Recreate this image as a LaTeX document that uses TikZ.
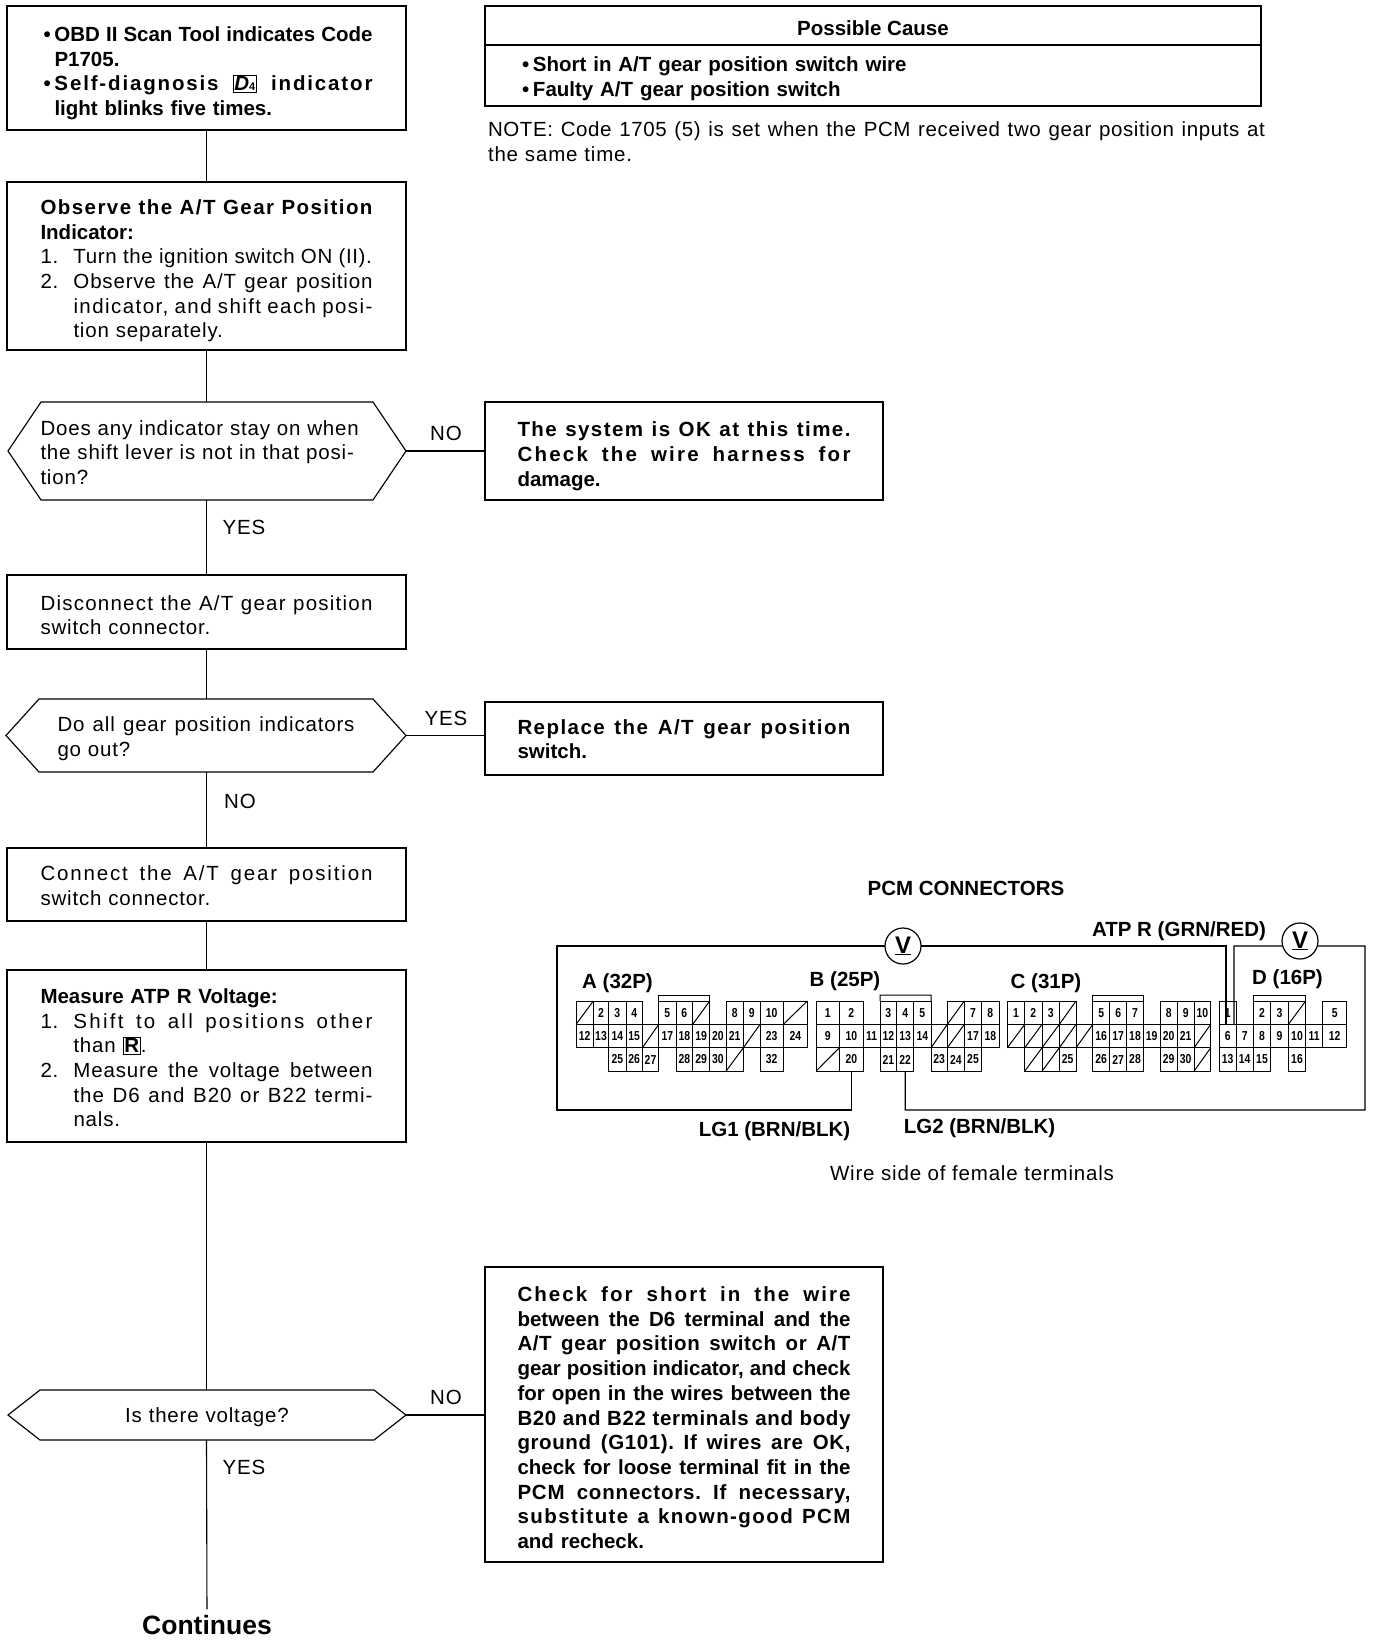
\documentclass[tikz,border=0pt]{standalone}
\usepackage{fontspec}
\setmainfont{Liberation Sans}
\newfontfamily\regls{Liberation Sans}[LetterSpace=4]
\newfontfamily\pinfont{Liberation Sans}[FakeStretch=0.8]
\newcommand{\freespace}{\frenchspacing\spaceskip=0pt\relax\xspaceskip=0pt\relax}
\newcommand{\lsp}[2]{{\addfontfeature{LetterSpace=#1}#2}}
\newcommand{\bld}[1]{{\normalfont\bfseries #1}}
\newcommand{\lnJ}[1]{\makebox[\hsize][s]{\freespace #1}}
\newcommand{\lnN}[2]{\makebox[33pt][l]{#1}\makebox[\dimexpr\hsize-33pt\relax][l]{\freespace #2}}
\newcommand{\lnNJ}[2]{\makebox[33pt][l]{#1}\makebox[\dimexpr\hsize-33pt\relax][s]{\freespace #2}}
\newcommand{\lnI}[1]{\makebox[33pt]{}#1}
\newcommand{\lnIJ}[1]{\makebox[33pt]{}\makebox[\dimexpr\hsize-33pt\relax][s]{\freespace #1}}
\newcommand{\lnB}[1]{\hspace*{3pt}\makebox[11pt][l]{•}#1}
\newcommand{\lnBJ}[1]{\hspace*{3pt}\makebox[11pt][l]{•}\makebox[\dimexpr\hsize-14pt\relax][s]{\freespace #1}}
\newcommand{\lnH}[1]{\makebox[14pt]{}#1}
\newcommand{\keybox}[1]{{\setlength{\fboxsep}{1pt}\setlength{\fboxrule}{0.7pt}\fbox{#1}}}
\newcommand{\dropby}[1]{\rule{0pt}{\dimexpr15pt+#1pt\relax}}
\newcount\slashn
\tikzset{
  wire/.style={line width=1.1pt,black},
  frame/.style={line width=1.15pt,black},
  bodytext/.style={font=\regls\fontsize{20.5}{24.7}\selectfont,inner sep=0pt,outer sep=0pt},
  boldtext/.style={font=\fontsize{20.5}{24.7}\selectfont\bfseries,inner sep=0pt,outer sep=0pt},
  flowbox/.style={draw,line width=1.15pt,inner sep=0pt,outer sep=0pt,align=left,font=\fontsize{20.5}{24.7}\selectfont},
  pincell/.style={draw,line width=1pt,inner sep=0pt,outer sep=0pt,font=\pinfont\fontsize{13}{13}\selectfont\bfseries},
  meter/.style={draw,circle,line width=1.2pt,minimum size=36pt,inner sep=0pt,outer sep=0pt,font=\fontsize{24}{24}\selectfont\bfseries},
}
% name, x0, y0, x1, y1, text width, text
\newcommand{\flow}[7]{%
  \pgfmathsetmacro{\bw}{#4-#2}\pgfmathsetmacro{\bh}{#5-#3}%
  \pgfmathsetmacro{\bx}{(#2+#4)/2}\pgfmathsetmacro{\by}{(#3+#5)/2}%
  \node[flowbox,minimum width=\bw pt,minimum height=\bh pt,text width=#6pt] (#1) at (\bx,\by) {#7};}
% name, x0, y0, x1, y1, inset, text width, text
\newcommand{\decision}[8]{%
  \pgfmathsetmacro{\bw}{#4-#2}\pgfmathsetmacro{\bh}{#5-#3}%
  \pgfmathsetmacro{\bx}{(#2+#4)/2}\pgfmathsetmacro{\by}{(#3+#5)/2}%
  \node[bodytext,minimum width=\bw pt,minimum height=\bh pt,text width=#7pt,align=left] (#1) at (\bx,\by) {#8};
  \draw[frame] (#1.west) -- ([xshift=#6pt]#1.north west) -- ([xshift=-#6pt]#1.north east) -- (#1.east)
    -- ([xshift=-#6pt]#1.south east) -- ([xshift=#6pt]#1.south west) -- cycle;}
% connector prefix, list of x0/x1/row/label
\newcommand{\pins}[2]{%
  \foreach \xa/\xb/\rw/\lbl in {#2}{%
    \pgfmathsetmacro{\cw}{\xb-\xa}\pgfmathsetmacro{\cx}{(\xa+\xb)/2}\pgfmathsetmacro{\cy}{1001+(\rw-0.5)*23.4}%
    \def\slashmark{x}%
    \ifx\lbl\slashmark
      \global\advance\slashn by 1
      \node[pincell,minimum width=\cw pt,minimum height=23.4pt] (s\the\slashn) at (\cx,\cy) {};
      \draw[line width=1pt] (s\the\slashn.south west) -- (s\the\slashn.north east);
    \else
      \node[pincell,minimum width=\cw pt,minimum height=23.4pt] (#1\lbl) at (\cx,\cy) {\lbl};
    \fi}}
\begin{document}
\begin{tikzpicture}[x=1pt,y=-1pt]
\useasboundingbox (0,0) rectangle (1376,1640);

% --- left column
\flow{b1}{7}{6}{406}{130}{332}{\bfseries
  \lnBJ{\dropby{10.5}OBD II Scan Tool indicates Code}\\
  \lnH{P1705.}\\
  \lnBJ{\lsp{9}{Self-diagnosis} \keybox{\textit{D}\fontsize{11}{11}\selectfont 4} \lsp{9}{indicator}}\\
  \lnH{light blinks five times.}}
\flow{b2}{7}{182}{406}{350}{332}{\regls
  \lnJ{\dropby{9.4}\bld{\lsp{7}{Observe the A/T Gear Position}}}\\
  \bld{Indicator:}\\
  \lnN{1.}{\lsp{3}{Turn the ignition switch ON (II).}}\\
  \lnNJ{2.}{\lsp{4}{Observe the A/T gear position}}\\
  \lnIJ{\lsp{7}{indicator, and shift each posi-}}\\
  \lnI{tion separately.}}
\decision{d1}{8}{402}{406}{500}{33}{333}{%
  \dropby{3}Does any indicator stay on when\\
  the shift lever is not in that posi-\\
  tion?}
\flow{b3}{7}{575}{406}{649}{332}{\regls
  \lnJ{\dropby{6.3}\lsp{6}{Disconnect the A/T gear position}}\\
  switch connector.}
\decision{d2}{6}{699}{406}{772}{33}{297}{%
  \lnJ{\dropby{6.3}Do all gear position indicators}\\
  go out?}
\flow{b4}{7}{848}{406}{921}{332}{\regls
  \lnJ{\dropby{2}\lsp{9}{Connect the A/T gear position}}\\
  switch connector.}
\flow{b5}{7}{970}{406}{1142}{332}{\regls
  {\dropby{3.5}\bld{Measure ATP R Voltage:}}\\
  \lnNJ{1.}{\lsp{11}{Shift to all positions other}}\\
  \lnI{than \keybox{\bld{R}}.}\\
  \lnNJ{2.}{Measure the voltage between}\\
  \lnIJ{\lsp{5}{the D6 and B20 or B22 termi-}}\\
  \lnI{nals.}}
\decision{d3}{8}{1390}{406}{1440}{32}{300}{\makebox[\hsize]{\dropby{5.2}Is there voltage?}}
\node[font=\fontsize{26.5}{28}\selectfont\bfseries,inner sep=0pt,outer sep=0pt] (cont) at (207,1625) {Continues};

% --- right column
\node[flowbox,minimum width=776pt,minimum height=39pt,font=\fontsize{20.5}{24.7}\selectfont\bfseries,align=center] (causehead) at (873,25.5) {\raisebox{-10pt}[0pt][0pt]{Possible Cause}};
\node[flowbox,minimum width=776pt,minimum height=61pt,text width=708pt] (causebody) at (873,75.5) {\bfseries
  \lnB{\dropby{6}Short in A/T gear position switch wire}\\
  \lnB{Faulty A/T gear position switch}};
\node[bodytext,anchor=north west,text width=777pt,align=left] (note) at (488,122) {%
  \lnJ{\lsp{3}{NOTE: Code 1705 (5) is set when the PCM received two gear position inputs at}}\\
  the same time.};
\flow{r1}{485}{402}{883}{500}{333}{\bfseries
  \lnJ{\dropby{10.5}\lsp{7}{The system is OK at this time.}}\\
  \lnJ{\lsp{11}{Check the wire harness for}}\\
  damage.}
\flow{r2}{485}{702}{883}{775}{333}{\bfseries
  \lnJ{\dropby{1}\lsp{7}{Replace the A/T gear position}}\\
  switch.}
\flow{r3}{485}{1267}{883}{1562}{333}{\bfseries
  \lnJ{\dropby{6.3}\lsp{10}{Check for short in the wire}}\\
  \lnJ{between the D6 terminal and the}\\
  \lnJ{\lsp{3}{A/T gear position switch or A/T}}\\
  \lnJ{gear position indicator, and check}\\
  \lnJ{for open in the wires between the}\\
  \lnJ{\lsp{3}{B20 and B22 terminals and body}}\\
  \lnJ{\lsp{3}{ground (G101). If wires are OK,}}\\
  \lnJ{check for loose terminal fit in the}\\
  \lnJ{\lsp{4}{PCM connectors. If necessary,}}\\
  \lnJ{\lsp{7}{substitute a known-good PCM}}\\
  and recheck.}

% --- flow connectors
\draw[wire] (b1) -- (b2);
\draw[wire] (b2) -- (b2 |- d1.north);
\draw[wire] (b3 |- d1.south) -- (b3);
\draw[wire] (b3) -- (b3 |- d2.north);
\draw[wire] (b4 |- d2.south) -- (b4);
\draw[wire] (b4) -- (b5);
\draw[wire] (b5) -- (b5 |- d3.north);
\draw[wire,shorten >=6pt] (b5 |- d3.south) -- (cont.north);
\draw[wire] (d1.east) -- (r1.west);
\draw[wire] (d2.east) -- (d2.east -| r2.west);
\draw[wire] (d3.east) -- (d3.east -| r3.west);

% --- flow labels
\node[bodytext] (l1) at (446,433) {NO};
\node[bodytext] (l2) at (244,527) {YES};
\node[bodytext] (l3) at (446,718) {YES};
\node[bodytext] (l4) at (240,801) {NO};
\node[bodytext] (l5) at (446,1397) {NO};
\node[bodytext] (l6) at (244,1467) {YES};

% --- PCM connectors
\node[boldtext] (pcm) at (966,888) {PCM CONNECTORS};
\node[boldtext] (atp) at (1179,931) {ATP R (GRN/RED)};
\node[boldtext] (nA) at (617.5,983) {A (32P)};
\node[boldtext] (nB) at (845,981) {B (25P)};
\node[boldtext] (nC) at (1046,983) {C (31P)};
\node[boldtext] (nD) at (1287.5,979) {D (16P)};
\node[boldtext] (lg1) at (774.5,1131) {LG1 (BRN/BLK)};
\node[boldtext] (lg2) at (979.5,1128) {LG2 (BRN/BLK)};
\node[bodytext] (wside) at (972,1173) {Wire side of female terminals};

\pins{pA}{576/593.3/1/x,593.3/608.7/1/2,608.7/626/1/3,626/642.3/1/4,658.7/676/1/5,676/692.7/1/6,692.7/709.7/1/x,726/743.3/1/8,743.3/760/1/9,760/783.3/1/10,783.3/807.3/1/x,
576/593.3/2/12,593.3/608.7/2/13,608.7/626/2/14,626/642.3/2/15,642.3/658.7/2/x,658.7/676/2/17,676/692.7/2/18,692.7/709.7/2/19,709.7/726/2/20,726/743.3/2/21,743.3/760/2/x,760/783.3/2/23,783.3/807.3/2/24,
608.7/626/3/25,626/642.3/3/26,642.3/658.7/3/27,676/692.7/3/28,692.7/709.7/3/29,709.7/726/3/30,726/743.3/3/x,760/783.3/3/32}
\pins{pB}{816/839.3/1/1,839.3/863.3/1/2,880/896.7/1/3,896.7/913.7/1/4,913.7/931/1/5,947.3/964.3/1/x,964.3/981.7/1/7,981.7/999/1/8,
816/839.3/2/9,839.3/863.3/2/10,863.3/880/2/11,880/896.7/2/12,896.7/913.7/2/13,913.7/931/2/14,931/947.3/2/x,947.3/964.3/2/x,964.3/981.7/2/17,981.7/999/2/18,
816/839.3/3/x,839.3/863.3/3/20,880/896.7/3/21,896.7/913.7/3/22,931/947.3/3/23,947.3/964.3/3/24,964.3/981.7/3/25}
\pins{pC}{1007.3/1024.7/1/1,1024.7/1042/1/2,1042/1059.3/1/3,1059.3/1076/1/x,1092.7/1109.7/1/5,1109.7/1126.7/1/6,1126.7/1143.3/1/7,1160/1177.3/1/8,1177.3/1194/1/9,1194/1210.7/1/10,
1007.3/1024.7/2/x,1024.7/1042/2/x,1042/1059.3/2/x,1059.3/1076/2/x,1076/1092.7/2/x,1092.7/1109.7/2/16,1109.7/1126.7/2/17,1126.7/1143.3/2/18,1143.3/1160/2/19,1160/1177.3/2/20,1177.3/1194/2/21,1194/1210.7/2/x,
1024.7/1042/3/x,1042/1059.3/3/x,1059.3/1076/3/25,1092.7/1109.7/3/26,1109.7/1126.7/3/27,1126.7/1143.3/3/28,1160/1177.3/3/29,1177.3/1194/3/30,1194/1210.7/3/x}
\pins{pD}{1219.3/1236/1/1,1253.3/1270.7/1/2,1270.7/1288.3/1/3,1288.3/1305.7/1/x,1322.7/1346.7/1/5,
1219.3/1236/2/6,1236/1253.3/2/7,1253.3/1270.7/2/8,1270.7/1288.3/2/9,1288.3/1305.7/2/10,1305.7/1322.7/2/11,1322.7/1346.7/2/12,
1219.3/1236/3/13,1236/1253.3/3/14,1253.3/1270.7/3/15,1288.3/1305.7/3/16}

% keys above the connectors
\coordinate (keyAl) at (658.7,995); \coordinate (keyAr) at (709.7,995);
\coordinate (keyBl) at (880,995);   \coordinate (keyBr) at (931,995);
\coordinate (keyCl) at (1092.7,995);\coordinate (keyCr) at (1143.3,995);
\coordinate (keyDl) at (1253.3,995);\coordinate (keyDr) at (1305.7,995);
\draw[line width=1pt] (pA5.north west) -- (keyAl) -- (keyAr) -- (keyAr |- pA5.north);
\draw[line width=1pt] (pB3.north west) -- (keyBl) -- (keyBr) -- (pB5.north east);
\draw[line width=1pt] (pC5.north west) -- (keyCl) -- (keyCr) -- (pC7.north east);
\draw[line width=1pt] (pD2.north west) -- (keyDl) -- (keyDr) -- (keyDr |- pD2.north);

% --- meters and wires
\node[meter] (m1) at (903,946) {\underline{V}};
\node[meter] (m2) at (1300,941) {\underline{V}};
\coordinate (tl) at (557,946);
\coordinate (bl) at (557,1110);
\coordinate (tr) at (1365,946);
\coordinate (br) at (1365,1110);
\coordinate (atpa) at (1226,946);
\coordinate (atpb) at (1234,946);
\coordinate (atpc) at (1234,1024);
\draw[wire] (m1.west) -- (tl) -- (bl) -| (pB20.south);
\draw[wire] (m1.east) -- (atpa) -- (atpa |- pD1.south);
\draw[wire] (m2.196) -- (atpb) -- (atpc);
\draw[wire] (m2.-16) -- (tr) -- (br) -| (pB22.south);
\end{tikzpicture}
\end{document}
